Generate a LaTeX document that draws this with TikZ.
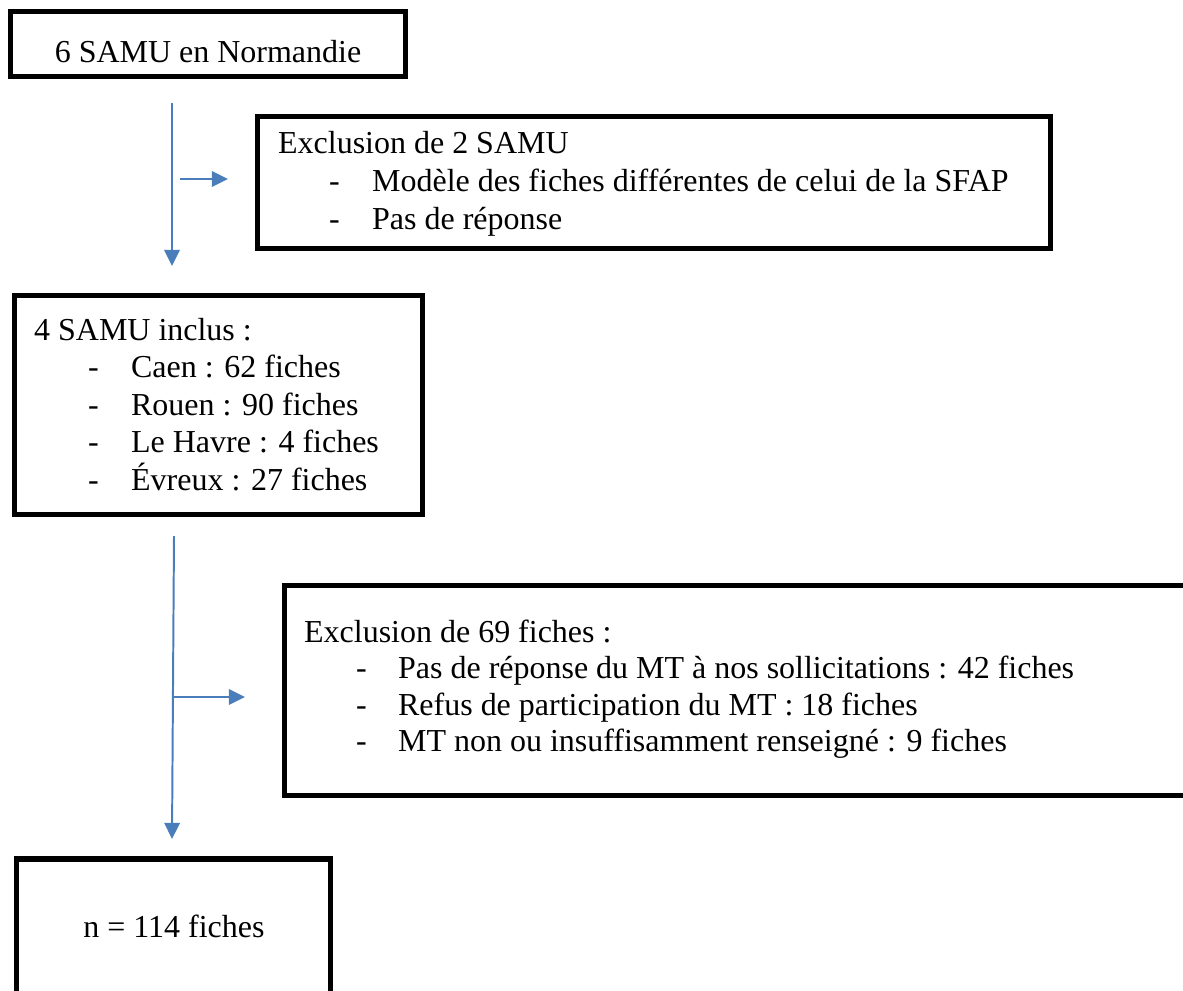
\documentclass[tikz,border=0pt]{standalone}
\usepackage{fontspec}
\setmainfont{Liberation Serif}
\usetikzlibrary{arrows.meta, positioning}
\definecolor{flowblue}{HTML}{4A7EBB}

\begin{document}
\begin{tikzpicture}[x=0.5mm, y=-0.5mm, font=\fontsize{45.5}{52.6}\selectfont,
    box/.style={draw, line width=8pt, inner sep=0pt},
    flow/.style={draw=flowblue, line width=2.8pt, -{Triangle[width=22pt, length=23pt]}},
    txt/.style={anchor=base west, inner sep=0pt}]
\clip (0,0) rectangle (1183,991);

% Boxes
\node[box, minimum width=197.5mm, minimum height=32.5mm] (samu) at (208,44) {};
\node[box, minimum width=396.5mm, minimum height=66mm] (excl1) at (654,182.5) {};
\node[box, minimum width=204mm, minimum height=109.5mm] (inclus) at (218.5,405) {};
\node[box, minimum width=456.5mm, minimum height=105mm] (excl2) at (741,690.5) {};
\node[box, minimum width=157mm, minimum height=73mm] (total) at (173.5,932) {};

% Texts
\node[inner sep=0pt, anchor=base] (samutxt) at (208,63) {6 SAMU en Normandie};
\node[inner sep=0pt, anchor=base] (totaltxt) at (174,937) {n = 114 fiches};

\node[txt] (excl1h) at (278,153) {Exclusion de 2 SAMU};
\foreach \i/\name in {1/Modèle des fiches différentes de celui de la SFAP, 2/Pas de réponse} {
    \node[txt] at (329,153+\i*38) {-};
    \node[txt] (excl1l\i) at (372,153+\i*38) {\name};
}

\node[txt] (inclush) at (34,340) {4 SAMU inclus :};
\foreach \i/\name in {1/Caen : 62 fiches, 2/Rouen : 90 fiches, 3/Le Havre : 4 fiches, 4/Évreux : 27 fiches} {
    \node[txt] at (88,340+\i*37.5) {-};
    \node[txt] (inclusl\i) at (131,340+\i*37.5) {\name};
}

\node[txt] (excl2h) at (304,642) {Exclusion de 69 fiches :};
\foreach \i/\name in {1/Pas de réponse du MT à nos sollicitations : 42 fiches, 2/Refus de participation du MT : 18 fiches, 3/MT non ou insuffisamment renseigné : 9 fiches} {
    \node[txt] at (356,642+\i*36.5) {-};
    \node[txt] (excl2l\i) at (398,642+\i*36.5) {\name};
}

% Arrows
\coordinate (a1s) at (172,103);
\coordinate (a1e) at (172,266);
\coordinate (b1s) at (180,179);
\coordinate (b1e) at (228,179);
\coordinate (a2s) at (174,536);
\coordinate (a2m) at (174,697);
\coordinate (a2e) at (172,839);
\coordinate (b2e) at (245,697);
\draw[flow] (a1s) -- (a1e);
\draw[flow] (b1s) -- (b1e);
\draw[flow] (a2s) -- (a2e);
\draw[flow] (a2m) -- (b2e);
\end{tikzpicture}
\end{document}
